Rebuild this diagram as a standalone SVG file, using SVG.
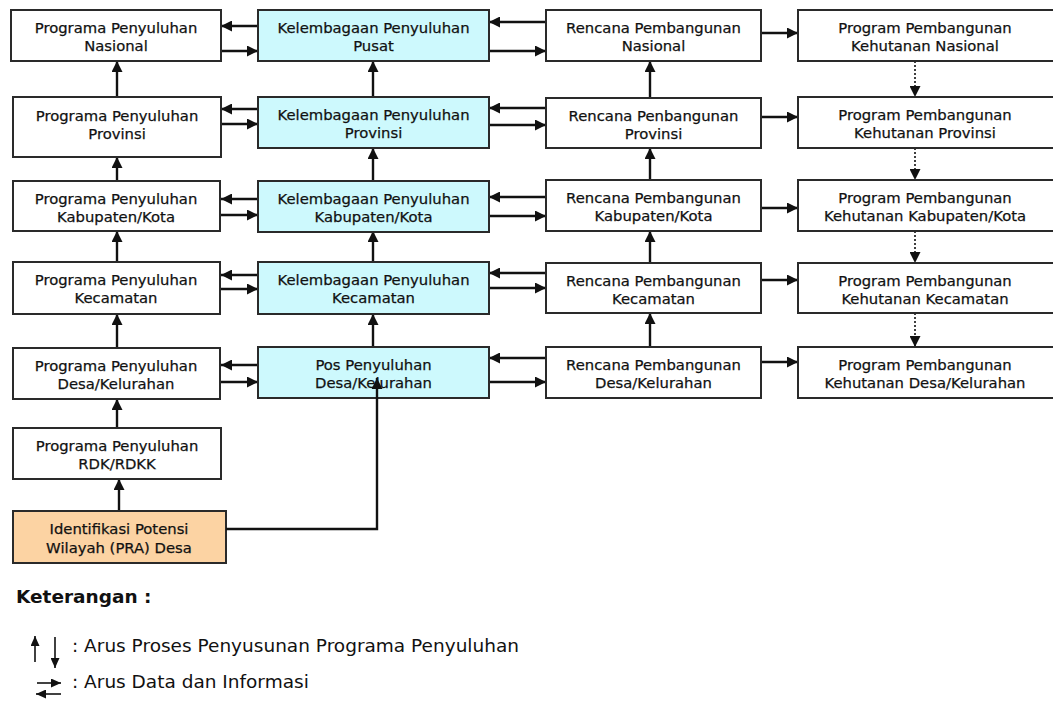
<svg xmlns="http://www.w3.org/2000/svg" width="1053" height="704" viewBox="0 0 1053 704">
<style>
.box{fill:#ffffff;stroke:#2a2a2a;stroke-width:2}
.blue{fill:#cdf9fd}
.orange{fill:#fcd3a3}
.t{font-family:"DejaVu Sans",Verdana,sans-serif;font-size:14.8px;fill:#111;stroke:#111;stroke-width:0.25;text-anchor:middle}
.c{fill:none;stroke:#111;stroke-width:2.4}
.d{fill:none;stroke:#111;stroke-width:1.6;stroke-dasharray:2 2}
.leg{font-family:"DejaVu Sans",Verdana,sans-serif;font-size:18.5px;fill:#111}
.lg{fill:none;stroke:#111;stroke-width:1.6}
</style>
<defs>
<marker id="ah" markerUnits="userSpaceOnUse" markerWidth="12" markerHeight="11" refX="11" refY="5.5" orient="auto">
<path d="M0,0 L11,5.5 L0,11 z" fill="#111"/>
</marker>
<marker id="ahs" markerUnits="userSpaceOnUse" markerWidth="10" markerHeight="9" refX="10" refY="4.5" orient="auto">
<path d="M0,0 L10,4.5 L0,9 z" fill="#111"/>
</marker>
</defs>
<g id="connectors">
<path class="c" d="M258,26 L221,26" marker-end="url(#ah)"/>
<path class="c" d="M221,51 L258,51" marker-end="url(#ah)"/>
<path class="c" d="M258,109 L221,109" marker-end="url(#ah)"/>
<path class="c" d="M221,124 L258,124" marker-end="url(#ah)"/>
<path class="c" d="M258,199 L221,199" marker-end="url(#ah)"/>
<path class="c" d="M221,215 L258,215" marker-end="url(#ah)"/>
<path class="c" d="M258,275 L221,275" marker-end="url(#ah)"/>
<path class="c" d="M221,289 L258,289" marker-end="url(#ah)"/>
<path class="c" d="M258,365 L221,365" marker-end="url(#ah)"/>
<path class="c" d="M218,382 L258,382" marker-end="url(#ah)"/>
<path class="c" d="M546,22 L489,22" marker-end="url(#ah)"/>
<path class="c" d="M489,51 L546,51" marker-end="url(#ah)"/>
<path class="c" d="M546,108 L489,108" marker-end="url(#ah)"/>
<path class="c" d="M489,125 L546,125" marker-end="url(#ah)"/>
<path class="c" d="M546,197 L489,197" marker-end="url(#ah)"/>
<path class="c" d="M489,216 L546,216" marker-end="url(#ah)"/>
<path class="c" d="M546,273 L489,273" marker-end="url(#ah)"/>
<path class="c" d="M489,288 L546,288" marker-end="url(#ah)"/>
<path class="c" d="M546,358 L489,358" marker-end="url(#ah)"/>
<path class="c" d="M489,382 L546,382" marker-end="url(#ah)"/>
<path class="c" d="M761,33 L798,33" marker-end="url(#ah)"/>
<path class="c" d="M761,117 L798,117" marker-end="url(#ah)"/>
<path class="c" d="M761,208 L798,208" marker-end="url(#ah)"/>
<path class="c" d="M761,280 L798,280" marker-end="url(#ah)"/>
<path class="c" d="M761,362 L798,362" marker-end="url(#ah)"/>
<path class="c" d="M117,97 L117,61" marker-end="url(#ah)"/>
<path class="c" d="M117,181 L117,157" marker-end="url(#ah)"/>
<path class="c" d="M117,262 L117,231" marker-end="url(#ah)"/>
<path class="c" d="M117,348 L117,314" marker-end="url(#ah)"/>
<path class="c" d="M117,428 L117,399" marker-end="url(#ah)"/>
<path class="c" d="M119,511 L119,479" marker-end="url(#ah)"/>
<path class="c" d="M373,97 L373,61" marker-end="url(#ah)"/>
<path class="c" d="M373,181 L373,148" marker-end="url(#ah)"/>
<path class="c" d="M373,262 L373,231" marker-end="url(#ah)"/>
<path class="c" d="M373,347 L373,314" marker-end="url(#ah)"/>
<path class="c" d="M650,98 L650,61" marker-end="url(#ah)"/>
<path class="c" d="M650,180 L650,148" marker-end="url(#ah)"/>
<path class="c" d="M650,263 L650,231" marker-end="url(#ah)"/>
<path class="c" d="M650,347 L650,313" marker-end="url(#ah)"/>
<path class="d" d="M915,61 L915,97" marker-end="url(#ah)"/>
<path class="d" d="M915,148 L915,180" marker-end="url(#ah)"/>
<path class="d" d="M915,231 L915,263" marker-end="url(#ah)"/>
<path class="d" d="M915,313 L915,347" marker-end="url(#ah)"/>
</g>
<g id="n-pp-nasional"><rect class="box" x="11" y="10" width="210" height="51"/><text class="t" x="116" y="33">Programa Penyuluhan</text><text class="t" x="116" y="51">Nasional</text></g>
<g id="n-pp-provinsi"><rect class="box" x="13" y="97" width="208" height="60"/><text class="t" x="117" y="121">Programa Penyuluhan</text><text class="t" x="117" y="139">Provinsi</text></g>
<g id="n-pp-kab"><rect class="box" x="13" y="181" width="207" height="50"/><text class="t" x="116" y="204">Programa Penyuluhan</text><text class="t" x="116" y="222">Kabupaten/Kota</text></g>
<g id="n-pp-kec"><rect class="box" x="13" y="262" width="207" height="52"/><text class="t" x="116" y="285">Programa Penyuluhan</text><text class="t" x="116" y="303">Kecamatan</text></g>
<g id="n-pp-desa"><rect class="box" x="13" y="348" width="207" height="51"/><text class="t" x="116" y="371">Programa Penyuluhan</text><text class="t" x="116" y="389">Desa/Kelurahan</text></g>
<g id="n-pp-rdk"><rect class="box" x="13" y="428" width="208" height="51"/><text class="t" x="117" y="451">Programa Penyuluhan</text><text class="t" x="117" y="469">RDK/RDKK</text></g>
<g id="n-pra"><rect class="box orange" x="13" y="511" width="213" height="52"/><text class="t" x="119" y="534">Identifikasi Potensi</text><text class="t" x="119" y="553">Wilayah (PRA) Desa</text></g>
<g id="n-kp-pusat"><rect class="box blue" x="258" y="10" width="231" height="51"/><text class="t" x="373.5" y="33">Kelembagaan Penyuluhan</text><text class="t" x="373.5" y="51">Pusat</text></g>
<g id="n-kp-provinsi"><rect class="box blue" x="258" y="97" width="231" height="51"/><text class="t" x="373.5" y="120">Kelembagaan Penyuluhan</text><text class="t" x="373.5" y="138">Provinsi</text></g>
<g id="n-kp-kab"><rect class="box blue" x="258" y="181" width="231" height="51"/><text class="t" x="373.5" y="204">Kelembagaan Penyuluhan</text><text class="t" x="373.5" y="222">Kabupaten/Kota</text></g>
<g id="n-kp-kec"><rect class="box blue" x="258" y="262" width="231" height="52"/><text class="t" x="373.5" y="285">Kelembagaan Penyuluhan</text><text class="t" x="373.5" y="303">Kecamatan</text></g>
<g id="n-pos-desa"><rect class="box blue" x="258" y="347" width="231" height="51"/><text class="t" x="373.5" y="370">Pos Penyuluhan</text><text class="t" x="373.5" y="388">Desa/Kelurahan</text></g>
<g id="n-rp-nasional"><rect class="box" x="546" y="10" width="215" height="51"/><text class="t" x="653.5" y="33">Rencana Pembangunan</text><text class="t" x="653.5" y="51">Nasional</text></g>
<g id="n-rp-provinsi"><rect class="box" x="546" y="98" width="215" height="50"/><text class="t" x="653.5" y="121">Rencana Penbangunan</text><text class="t" x="653.5" y="139">Provinsi</text></g>
<g id="n-rp-kab"><rect class="box" x="546" y="180" width="215" height="51"/><text class="t" x="653.5" y="203">Rencana Pembangunan</text><text class="t" x="653.5" y="221">Kabupaten/Kota</text></g>
<g id="n-rp-kec"><rect class="box" x="546" y="263" width="215" height="50"/><text class="t" x="653.5" y="286">Rencana Pembangunan</text><text class="t" x="653.5" y="304">Kecamatan</text></g>
<g id="n-rp-desa"><rect class="box" x="546" y="347" width="215" height="51"/><text class="t" x="653.5" y="370">Rencana Pembangunan</text><text class="t" x="653.5" y="388">Desa/Kelurahan</text></g>
<g id="n-pk-nasional"><rect class="box" x="798" y="10" width="260" height="51"/><text class="t" x="925" y="33">Program Pembangunan</text><text class="t" x="925" y="51">Kehutanan Nasional</text></g>
<g id="n-pk-provinsi"><rect class="box" x="798" y="97" width="260" height="51"/><text class="t" x="925" y="120">Program Pembangunan</text><text class="t" x="925" y="138">Kehutanan Provinsi</text></g>
<g id="n-pk-kab"><rect class="box" x="798" y="180" width="260" height="51"/><text class="t" x="925" y="203">Program Pembangunan</text><text class="t" x="925" y="221">Kehutanan Kabupaten/Kota</text></g>
<g id="n-pk-kec"><rect class="box" x="798" y="263" width="260" height="50"/><text class="t" x="925" y="286">Program Pembangunan</text><text class="t" x="925" y="304">Kehutanan Kecamatan</text></g>
<g id="n-pk-desa"><rect class="box" x="798" y="347" width="260" height="51"/><text class="t" x="925" y="370">Program Pembangunan</text><text class="t" x="925" y="388">Kehutanan Desa/Kelurahan</text></g>
<g id="connector-pra">
<path class="c" d="M226,529 L377,529 L377,378" marker-end="url(#ah)"/>
</g>
<g id="legend">
<text class="leg" x="16" y="603" style="font-weight:bold">Keterangan :</text>
<path class="lg" d="M35,662 L35,636" marker-end="url(#ahs)"/>
<path class="lg" d="M55,637 L55,668" marker-end="url(#ahs)"/>
<text class="leg" x="72" y="652">: Arus Proses Penyusunan Programa Penyuluhan</text>
<path class="lg" d="M37,683 L61,683" marker-end="url(#ahs)"/>
<path class="lg" d="M61,694 L36,694" marker-end="url(#ahs)"/>
<text class="leg" x="72" y="688">: Arus Data dan Informasi</text>
</g>
</svg>
